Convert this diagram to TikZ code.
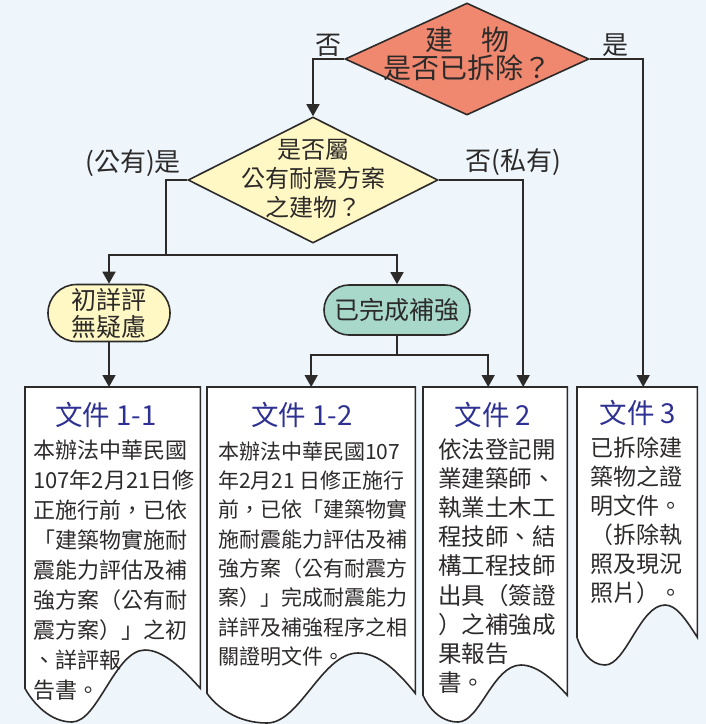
\documentclass[tikz,border=0pt]{standalone}
\usepackage{fontspec}
\setmainfont{Noto Sans CJK TC}
\usetikzlibrary{calc,arrows.meta,shapes.geometric,shapes.misc}
\definecolor{bgblue}{RGB}{238,246,252}
\definecolor{salmon}{RGB}{240,136,112}
\definecolor{paleyellow}{RGB}{255,248,196}
\definecolor{mint}{RGB}{168,216,202}
\definecolor{inkgray}{RGB}{45,42,42}
\definecolor{titleblue}{RGB}{46,49,146}
\tikzset{
  decision/.style={diamond,draw=inkgray,line width=1.6pt,inner sep=0pt},
  question/.style={text=inkgray,align=center,inner sep=0pt},
  terminal/.style={rounded rectangle,draw=inkgray,line width=1.6pt,inner sep=0pt,
    align=center,text=inkgray,font=\fontsize{25}{27}\selectfont},
  docframe/.style={inner sep=0pt,anchor=north west},
  docline/.style={draw=inkgray,line width=1.6pt,fill=white},
  doctitle/.style={text=titleblue,inner sep=0pt,font=\fontsize{27.5}{30}\selectfont},
  docbody/.style={text=inkgray,inner sep=0pt,anchor=west,align=left},
  flow/.style={draw=inkgray,line width=1.6pt},
  flowarrow/.style={flow,-{Triangle[width=13pt,length=12pt]}},
  branch/.style={text=inkgray,inner sep=0pt,font=\fontsize{26}{30}\selectfont}
}
\begin{document}
\begin{tikzpicture}[x=1pt,y=-1pt,>=Latex]
  % Canvas
  \fill[bgblue] (0,0) rectangle (706,724);
  \useasboundingbox (0,0) rectangle (706,724);
  %
  % Decisions
  \node[decision,fill=salmon,minimum width=244pt,minimum height=112pt] (razed) at (467,59) {};
  \node[question,font=\fontsize{28}{28}\selectfont] (razedq) at (467,54) {建　物\\是否已拆除？};
  \node[decision,fill=paleyellow,minimum width=250pt,minimum height=126pt] (public) at (313,180) {};
  \node[question,font=\fontsize{24}{29}\selectfont] (publicq) at (313,179)
    {是否屬\\公有耐震方案\\之建物？};
  %
  % Terminals
  \node[terminal,fill=paleyellow,minimum width=122pt,minimum height=57pt] (initial) at (109,313)
    {初詳評\\無疑慮};
  \node[terminal,fill=mint,minimum width=146pt,minimum height=50pt] (retrofit) at (397,310)
    {已完成補強};
  %
  % Document frames
  \node[docframe,minimum width=175pt,minimum height=301pt] (doc11) at (25,387) {};
  \draw[docline] (doc11.south west) -- (doc11.north west) -- (doc11.north east) -- (doc11.south east)
    .. controls (182,668) and (163,650) .. (145,650)
    .. controls (115,650) and (98,722) .. (72,722)
    .. controls (50,722) and (33,703) .. (doc11.south west) -- cycle;
  \node[docframe,minimum width=208pt,minimum height=306pt] (doc12) at (207,387) {};
  \draw[docline] (doc12.south west) -- (doc12.north west) -- (doc12.north east) -- (doc12.south east)
    .. controls (395,668) and (377,653) .. (358,653)
    .. controls (322,653) and (300,723) .. (267,723)
    .. controls (237,723) and (217,707) .. (doc12.south west) -- cycle;
  \node[docframe,minimum width=144pt,minimum height=308pt] (doc2) at (423,387) {};
  \draw[docline] (doc2.south west) -- (doc2.north west) -- (doc2.north east) -- (doc2.south east)
    .. controls (552,678) and (536,665) .. (521,665)
    .. controls (493,665) and (480,722) .. (458,722)
    .. controls (440,722) and (428,707) .. (doc2.south west) -- cycle;
  \node[docframe,minimum width=120pt,minimum height=250pt] (doc3) at (577,387) {};
  \draw[docline] (doc3.south west) -- (doc3.north west) -- (doc3.north east) -- (doc3.south east)
    .. controls (685,618) and (676,605) .. (665,605)
    .. controls (640,605) and (626,665) .. (605,665)
    .. controls (590,665) and (581,650) .. (doc3.south west) -- cycle;
  %
  % Document texts
  \node[doctitle] (title11) at (106,415) {文件 1-1};
  \node[docbody,font=\fontsize{22}{30}\selectfont] (body11) at (33,570)
    {本辦法中華民國\\107年2月21日修\\正施行前，已依\\「建築物實施耐\\震能力評估及補\\強方案（公有耐\\震方案）」之初\\、詳評報\\告書。};
  \node[doctitle] (title12) at (302,415) {文件 1-2};
  \node[docbody,font=\fontsize{21}{29.3}\selectfont] (body12) at (218,554)
    {本辦法中華民國107\\年2月21 日修正施行\\前，已依「建築物實\\施耐震能力評估及補\\強方案（公有耐震方\\案）」完成耐震能力\\詳評及補強程序之相\\關證明文件。};
  \node[doctitle] (title2) at (493,415) {文件 2};
  \node[docbody,font=\fontsize{23.5}{29.1}\selectfont] (body2) at (438,566)
    {依法登記開\\業建築師、\\執業土木工\\程技師、結\\構工程技師\\出具（簽證\\）之補強成\\果報告\\書。};
  \node[doctitle] (title3) at (638,413) {文件 3};
  \node[docbody,font=\fontsize{23}{29}\selectfont] (body3) at (590,520)
    {已拆除建\\築物之證\\明文件。\\（拆除執\\照及現況\\照片）。};
  %
  % Connectors
  \draw[flowarrow] (razed.west) -| (public.north);
  \draw[flowarrow] (razed.east) -| ([xshift=6pt]doc3.north);
  \draw[flowarrow] (public.east) -| ([xshift=28pt]doc2.north);
  \coordinate (split1) at (166,255);
  \draw[flow] (public.west) -| (split1);
  \draw[flowarrow] (split1) -| (initial.north);
  \draw[flowarrow] (split1) -| (retrofit.north);
  \draw[flowarrow] (initial.south) -- (initial.south |- doc11.north);
  \coordinate (split2) at (397,355);
  \draw[flow] (retrofit.south) -- (split2);
  \draw[flowarrow] (split2) -| (doc12.north);
  \draw[flowarrow] (split2) -| ([xshift=-7pt]doc2.north);
  %
  % Branch labels
  \node[branch] (noRazed) at (328,45) {否};
  \node[branch] (yesRazed) at (615,45) {是};
  \node[branch] (yesPublic) at (133,163) {(公有)是};
  \node[branch] (noPublic) at (513,162) {否(私有)};
  %
\end{tikzpicture}
\end{document}
